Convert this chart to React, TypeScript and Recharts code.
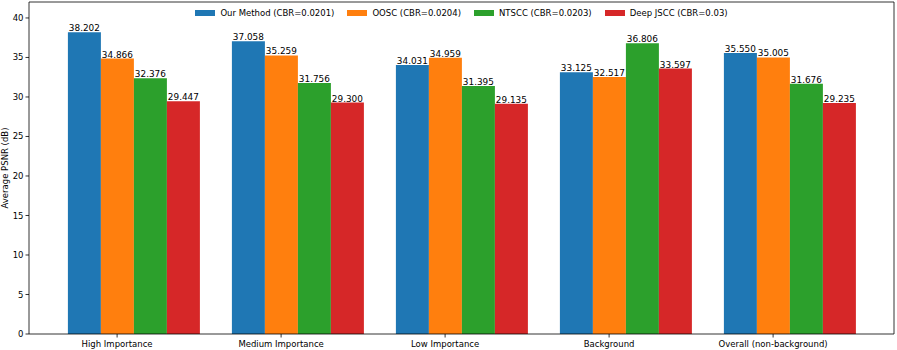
import React from "react";
import {
  BarChart,
  Bar,
  XAxis,
  YAxis,
  LabelList,
  ReferenceLine,
  Label,
} from "recharts";

const categories = [
  "High Importance",
  "Medium Importance",
  "Low Importance",
  "Background",
  "Overall (non-background)",
];

const ourMethod = [38.202, 37.058, 34.031, 33.125, 35.55];
const oosc = [34.866, 35.259, 34.959, 32.517, 35.005];
const ntscc = [32.376, 31.756, 31.395, 36.806, 31.676];
const deepJscc = [29.447, 29.3, 29.135, 33.597, 29.235];

const seriesNames = [
  "Our Method (CBR=0.0201)",
  "OOSC (CBR=0.0204)",
  "NTSCC (CBR=0.0203)",
  "Deep JSCC (CBR=0.03)",
];
const seriesKeys = ["ours", "oosc", "ntscc", "djscc"];
const colors = ["#1f77b4", "#ff7f0e", "#2ca02c", "#d62728"];

const yTicks = [0, 5, 10, 15, 20, 25, 30, 35, 40];
const yMax = 42.02;

const FONT = "DejaVu Sans, sans-serif";

const data = categories.map((name, i) => ({
  name,
  ours: ourMethod[i],
  oosc: oosc[i],
  ntscc: ntscc[i],
  djscc: deepJscc[i],
}));

// matplotlib put the tick under the second bar, not the group centre
const TICK_SHIFT = 16.4;

const XTick = (props: any) => {
  const { x, y, payload } = props;
  const tx = x - TICK_SHIFT;
  return (
    <g>
      <line x1={tx} x2={tx} y1={y} y2={y + 3.5} stroke="#000" strokeWidth={0.8} />
      <text x={tx} y={y + 13} textAnchor="middle" fontSize={8.5} fontFamily={FONT} fill="#000">
        {payload.value}
      </text>
    </g>
  );
};

const LegendBox = () => (
  <div
    style={{
      position: "absolute",
      left: 29,
      width: 865,
      top: 7,
      display: "flex",
      justifyContent: "center",
      fontFamily: FONT,
      fontSize: 8.5,
      lineHeight: "12px",
    }}
  >
    {seriesNames.map((n, i) => (
      <div key={n} style={{ display: "flex", alignItems: "center", marginRight: i < 3 ? 13 : 0 }}>
        <span style={{ display: "inline-block", width: 20, height: 6, background: colors[i], marginRight: 5 }} />
        <span>{n}</span>
      </div>
    ))}
  </div>
);

export default function App() {
  return (
    <div style={{ position: "absolute", left: 0, top: 0, width: 897, height: 350, background: "#fff" }}>
      <BarChart
        width={897}
        height={350}
        data={data}
        margin={{ top: 2, right: 0, left: 0, bottom: 0 }}
        barGap={0}
        barCategoryGap={16.4}
      >
        <XAxis
          dataKey="name"
          height={16}
          padding={{ left: 22.5, right: 22.5 }}
          tickLine={false}
          tickSize={0}
          tickMargin={0}
          interval={0}
          tick={<XTick />}
          axisLine={{ stroke: "#000", strokeWidth: 0.8 }}
        />
        <YAxis
          yAxisId="left"
          width={29}
          domain={[0, yMax]}
          ticks={yTicks}
          tickSize={3.5}
          tickMargin={2}
          tickLine={{ stroke: "#000", strokeWidth: 0.8 }}
          axisLine={{ stroke: "#000", strokeWidth: 0.8 }}
          tick={{ fontSize: 8.5, fontFamily: FONT, fill: "#000" }}
          allowDataOverflow
        >
          <Label
            value="Average PSNR (dB)"
            angle={-90}
            position="insideLeft"
            offset={0}
            dx={5}
            style={{ textAnchor: "middle", fontSize: 8.5, fontFamily: FONT, fill: "#000" }}
          />
        </YAxis>
        <YAxis
          yAxisId="right"
          orientation="right"
          width={3}
          domain={[0, yMax]}
          tick={false}
          tickLine={false}
          axisLine={{ stroke: "#000", strokeWidth: 0.8 }}
        />
        <ReferenceLine yAxisId="left" y={yMax} stroke="#000" strokeWidth={0.8} />
        {seriesKeys.map((k, i) => (
          <Bar
            key={k}
            yAxisId="left"
            dataKey={k}
            name={seriesNames[i]}
            fill={colors[i]}
            isAnimationActive={false}
          >
            <LabelList
              dataKey={k}
              position="top"
              offset={1}
              formatter={(v: any) => Number(v).toFixed(3)}
              style={{ fontSize: 8.9, fontFamily: FONT, fill: "#000" }}
            />
          </Bar>
        ))}
      </BarChart>
      <LegendBox />
    </div>
  );
}
